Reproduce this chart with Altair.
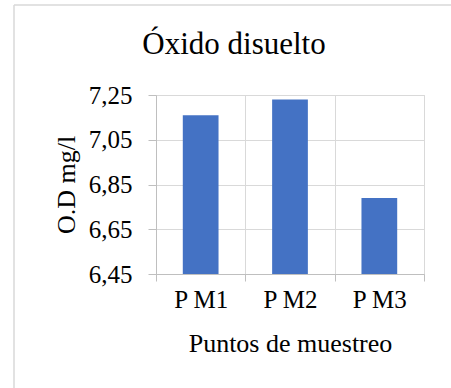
import altair as alt
import pandas as pd

# Sampling points and dissolved oxygen readings (mg/l)
puntos = ["P M1", "P M2", "P M3"]
oxigeno = [7.16, 7.23, 6.79]

# Y axis ticks
y_ticks = [6.45, 6.65, 6.85, 7.05, 7.25]

df = pd.DataFrame({"punto": puntos, "od": oxigeno})

FONT = "Liberation Serif"
GRID = "#d9d9d9"
AXIS = "#bfbfbf"

x_enc = alt.X(
    "punto:N",
    sort=puntos,
    scale=alt.Scale(paddingInner=0, paddingOuter=0),
    axis=alt.Axis(
        title="Puntos de muestreo",
        labelAngle=0,
        tickBand="extent",
        grid=True,
        gridColor=GRID,
        domainColor=AXIS,
        tickColor=AXIS,
        tickSize=7,
        labelPadding=6,
        labelFont=FONT,
        labelFontSize=25,
        labelColor="black",
        titleFont=FONT,
        titleFontSize=26,
        titleFontWeight="normal",
        titleColor="black",
        titleBaseline="alphabetic",
        titleY=77,
    ),
)

y_enc = alt.Y(
    "od:Q",
    scale=alt.Scale(domain=[6.45, 7.25], zero=False, nice=False),
    axis=alt.Axis(
        title="O.D mg/l",
        values=y_ticks,
        labelExpr="replace(format(datum.value, '.2f'), '.', ',')",
        grid=True,
        gridColor=GRID,
        domainColor=AXIS,
        tickColor=AXIS,
        tickSize=8,
        labelPadding=16,
        labelFont=FONT,
        labelFontSize=25,
        labelColor="black",
        titleFont=FONT,
        titleFontSize=26,
        titleFontWeight="normal",
        titleColor="black",
        titleBaseline="alphabetic",
        titleX=-82,
    ),
)

bars = (
    alt.Chart(df)
    .mark_bar(color="#4472c4", width=alt.RelativeBandSize(0.4), clip=True)
    .encode(x=x_enc, y=y_enc, y2=alt.datum(6.45))
)

# Light frame edges (top and left) of the figure box
frame_top = (
    alt.Chart(alt.Data(values=[{}]))
    .mark_rule(color=GRID, strokeWidth=1.5)
    .encode(x=alt.value(-142), x2=alt.value(295), y=alt.value(-90))
)
frame_left = (
    alt.Chart(alt.Data(values=[{}]))
    .mark_rule(color=GRID, strokeWidth=1.5)
    .encode(x=alt.value(-142), y=alt.value(-90), y2=alt.value(293))
)

chart = (
    alt.layer(bars, frame_top, frame_left)
    .properties(
        width=268,
        height=179,
        title=alt.TitleParams(
            "Óxido disuelto",
            font=FONT,
            fontSize=31,
            fontWeight="normal",
            color="black",
            anchor="middle",
            baseline="alphabetic",
            dx=-56,
            dy=81,
            offset=0,
        ),
        autosize=alt.AutoSizeParams(type="none"),
        padding={"left": 156, "top": 95, "right": 27, "bottom": 114},
        background="white",
    )
    .configure_view(stroke=GRID, strokeWidth=1)
)

chart.save("out.html", embed_options={"renderer": "svg", "actions": False})
